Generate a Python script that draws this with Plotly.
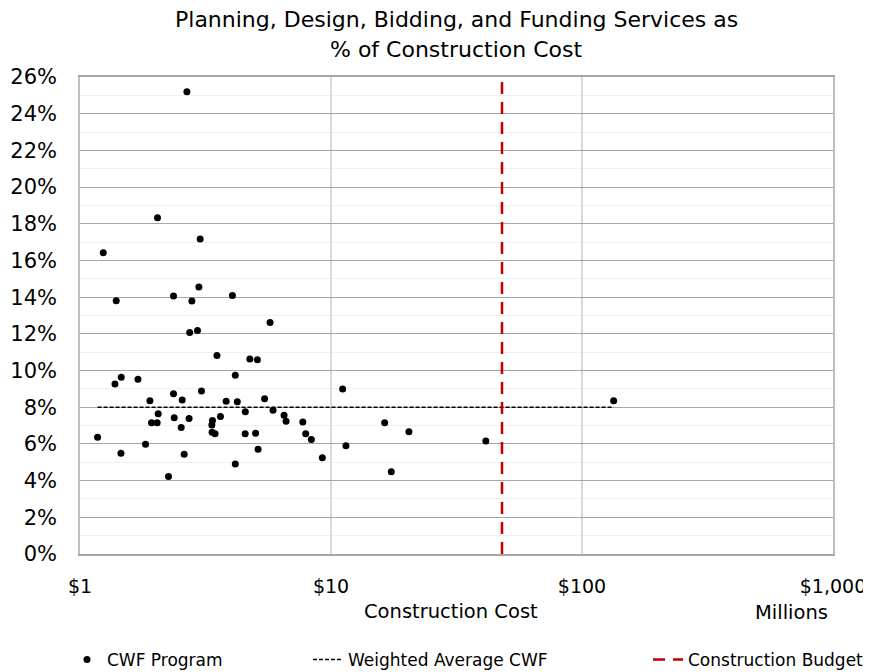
import plotly.graph_objects as go

# Construction cost ($ millions) and services as % of construction cost
cost_millions = [1.175, 1.238, 1.394, 1.378, 1.460, 1.456, 1.702, 1.899, 1.824, 1.927,
                 2.030, 2.049, 2.036, 2.252, 2.358, 2.373, 2.358, 2.666, 2.530, 2.553,
                 2.600, 2.720, 2.735, 2.791, 2.938, 2.976, 3.011, 3.047, 3.371, 3.352,
                 3.360, 3.452, 3.513, 3.627, 3.821, 4.048, 4.157, 4.157, 4.234, 4.556,
                 4.550, 4.749, 5.006, 5.089, 5.122, 5.438, 5.717, 5.876, 6.501, 6.622,
                 7.722, 7.930, 8.351, 9.235, 11.13, 11.47, 16.36, 17.38, 20.44, 41.39,
                 133.7]
pct_of_cost = [6.37, 16.42, 13.80, 9.26, 9.64, 5.49, 9.53, 8.36, 5.98, 7.15,
               7.15, 7.65, 18.33, 4.22, 8.73, 7.42, 14.06, 25.19, 6.90, 8.40,
               5.44, 7.39, 12.08, 13.79, 12.18, 14.55, 17.17, 8.88, 7.28, 7.03,
               6.63, 6.56, 10.82, 7.50, 8.33, 14.09, 9.75, 4.91, 8.30, 7.76,
               6.56, 10.63, 6.58, 10.59, 5.71, 8.46, 12.62, 7.84, 7.56, 7.24,
               7.19, 6.56, 6.24, 5.25, 8.99, 5.90, 7.16, 4.49, 6.67, 6.16,
               8.36]

weighted_avg_pct = 8.0
budget_millions = 48
y_ticks = list(range(0, 27, 2))
y_tick_labels = [f"{v}%" for v in y_ticks]
x_ticks = [1, 10, 100, 1000]
x_tick_labels = ["$1", "$10", "$100", "$1,000"]

FONT = "DejaVu Sans"
OFF = 8  # page body margin offset of the rendered figure
W, H = 871 - OFF, 672 - OFF

fig = go.Figure()
fig.add_trace(go.Scatter(
    x=cost_millions, y=pct_of_cost, mode="markers", name="CWF Program",
    marker=dict(color="black", size=7), legend="legend", showlegend=True))
fig.add_trace(go.Scatter(
    x=[min(cost_millions), max(cost_millions)], y=[weighted_avg_pct, weighted_avg_pct],
    mode="lines", name="Weighted Average CWF",
    line=dict(color="black", width=1.6, dash="4px,2px"), legend="legend2", showlegend=True))
fig.add_trace(go.Scatter(
    x=[budget_millions, budget_millions], y=[0, 26], mode="lines",
    name="Construction Budget",
    line=dict(color="#c00000", width=2.5, dash="12px,8px"), legend="legend3", showlegend=True))


def leg(px):
    return dict(orientation="h", xref="container", yref="container",
                x=(px - OFF) / W, y=1 - (660 - OFF) / H,
                xanchor="left", yanchor="middle",
                font=dict(family=FONT, size=17, color="black"),
                bgcolor="rgba(0,0,0,0)")


def ann(text, px, py, size):
    return dict(text=text, xref="paper", yref="paper",
                x=(px - 80) / 753, y=(554 - py) / 476.5,
                showarrow=False, xanchor="center", yanchor="middle",
                font=dict(family=FONT, size=size, color="black"))


fig.update_layout(
    width=W, height=H,
    margin=dict(l=80 - OFF, r=W - (833 - OFF), t=77 - OFF, b=H - (554 - OFF)),
    paper_bgcolor="white", plot_bgcolor="white",
    font=dict(family=FONT, color="black"),
    showlegend=True,
    xaxis=dict(type="log", range=[0, 3], tickvals=x_ticks, ticktext=x_tick_labels,
               showgrid=True, gridcolor="#d9d9d9", gridwidth=1.5,
               showline=True, linecolor="#a6a6a6", linewidth=1.5, mirror=True,
               ticks="", ticklabelstandoff=14, automargin=False,
               tickfont=dict(family=FONT, size=19, color="black")),
    yaxis=dict(range=[0, 26], tickvals=y_ticks, ticktext=y_tick_labels,
               showgrid=True, gridcolor="#a6a6a6", gridwidth=1.3,
               minor=dict(dtick=1, showgrid=True, gridcolor="#f0f0f0", gridwidth=1.3),
               showline=True, linecolor="#bfbfbf", linewidth=1.5, mirror=True,
               zeroline=False, ticks="", ticklabelstandoff=17, automargin=False,
               tickfont=dict(family=FONT, size=21, color="black")),
    legend=leg(67),
    legend2=leg(308),
    legend3=leg(648),
    annotations=[
        ann("Planning, Design, Bidding, and Funding Services as", 456, 20, 22),
        ann("% of Construction Cost", 456, 50, 22),
        ann("Construction Cost", 451, 611, 19.5),
        ann("Millions", 791, 612, 19.5),
    ],
)

fig.write_html("out.html")
